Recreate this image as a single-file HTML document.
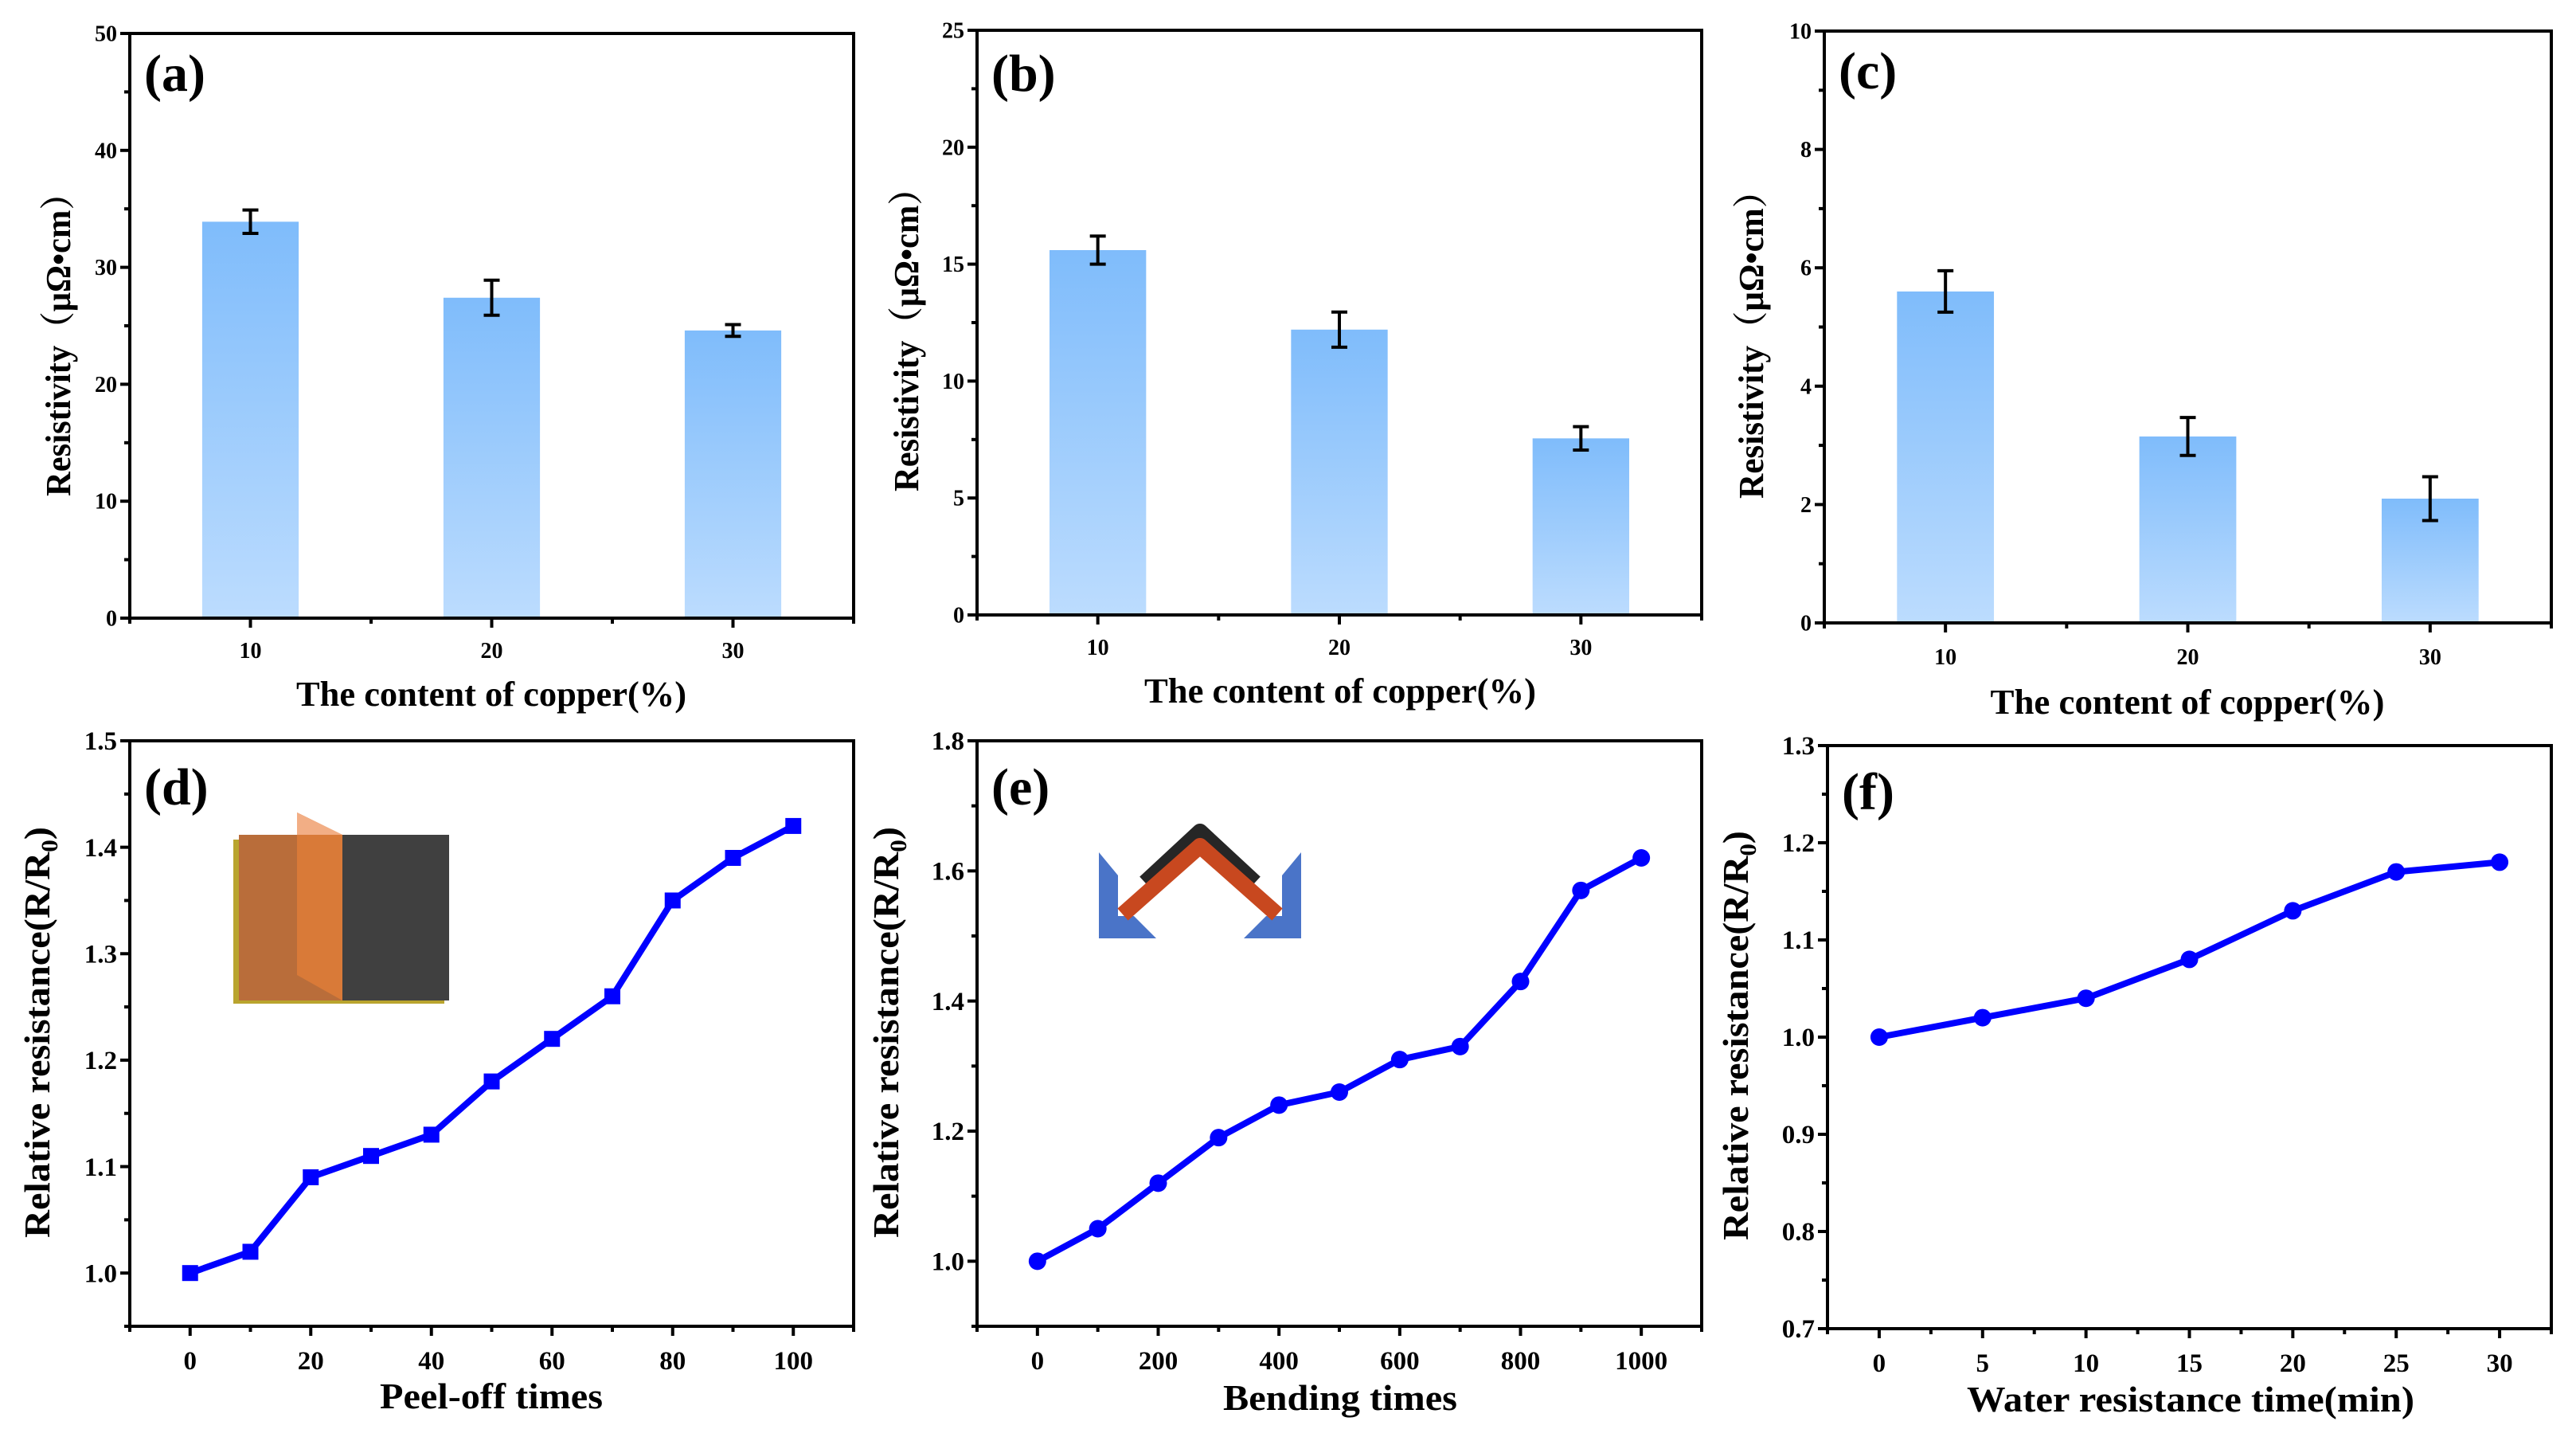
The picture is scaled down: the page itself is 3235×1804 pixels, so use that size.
<!DOCTYPE html>
<html><head><meta charset="utf-8"><style>
html,body{margin:0;padding:0;background:#fff;}
svg{display:block;font-family:"Liberation Serif","Noto Serif CJK SC",serif;font-weight:bold;}
</style></head><body>
<svg id="fig" width="3235" height="1804" viewBox="0 0 3235 1804" xmlns="http://www.w3.org/2000/svg">
<defs>
<linearGradient id="barGrad" x1="0" y1="0" x2="0" y2="1">
<stop offset="0" stop-color="#7fbcfb"/><stop offset="1" stop-color="#bcdcfe"/>
</linearGradient>
</defs>
<g id="inset-d">
<rect x="293" y="1054" width="265" height="206" fill="#b9a42e"/>
<rect x="300" y="1048" width="264" height="208" fill="#404040"/>
<rect x="300" y="1048" width="130" height="208" fill="#b96d3a"/>
<polygon points="373,1020 430,1048 430,1256 373,1224" fill="#d97a38"/>
<polygon points="373,1020 430,1048 373,1048" fill="#f2ae85"/>
</g>
<g id="inset-e">
<polygon points="1380,1070 1404,1099 1404,1150 1424,1150 1452,1178 1380,1178" fill="#4a74c8"/>
<polygon points="1634,1070 1610,1099 1610,1150 1590,1150 1562,1178 1634,1178" fill="#4a74c8"/>
<polyline points="1438,1108 1507,1044 1576,1108" fill="none" stroke="#262626" stroke-width="20" stroke-linejoin="round"/>
<polyline points="1410,1148 1507,1062 1604,1148" fill="none" stroke="#c8481f" stroke-width="20" stroke-linejoin="round"/>
</g>
</svg>
<script>
// ---- data ----
const barCats = [10, 20, 30];
const barA = [33.9, 27.4, 24.6];
const errA = [1.0, 1.5, 0.5];
const barB = [15.6, 12.2, 7.55];
const errB = [0.6, 0.75, 0.5];
const barC = [5.6, 3.15, 2.1];
const errC = [0.35, 0.32, 0.37];
const xD = [0,10,20,30,40,50,60,70,80,90,100];
const yD = [1.00,1.02,1.09,1.11,1.13,1.18,1.22,1.26,1.35,1.39,1.42];
const xE = [0,100,200,300,400,500,600,700,800,900,1000];
const yE = [1.00,1.05,1.12,1.19,1.24,1.26,1.31,1.33,1.43,1.57,1.62];
const xF = [0,5,10,15,20,25,30];
const yF = [1.00,1.02,1.04,1.08,1.13,1.17,1.18];
const ticksYA = [0,10,20,30,40,50];
const ticksYB = [0,5,10,15,20,25];
const ticksYC = [0,2,4,6,8,10];
const ticksYD = [1.0,1.1,1.2,1.3,1.4,1.5];
const ticksYE = [1.0,1.2,1.4,1.6,1.8];
const ticksYF = [0.7,0.8,0.9,1.0,1.1,1.2,1.3];
const ticksXD = [0,20,40,60,80,100];
const ticksXE = [0,200,400,600,800,1000];
const ticksXF = [0,5,10,15,20,25,30];

const NS = "http://www.w3.org/2000/svg";
const svg = document.getElementById('fig');
function mk(tag, attrs, parent){
  const e = document.createElementNS(NS, tag);
  for (const k in attrs) e.setAttribute(k, attrs[k]);
  (parent||svg).appendChild(e);
  return e;
}
function panel(p){
  const g = mk('g', {});
  
  
  const sx = v => p.L + (v - p.x0) / (p.x1 - p.x0) * (p.R - p.L);
  const sy = v => p.B - (v - p.y0) / (p.y1 - p.y0) * (p.B - p.T);
  // bars
  if (p.bars){
    p.bars.forEach((v,i)=>{
      const c = p.cats[i];
      const r = mk('rect', {x: sx(c-2), y: sy(v), width: sx(c+2)-sx(c-2), height: sy(0)-sy(v), fill:'url(#barGrad)'}, g);
      
      
      const e = p.errs[i], cx = sx(c);
      const eb = mk('path', {d:`M${cx},${sy(v+e)}V${sy(v-e)}M${cx-10},${sy(v+e)}H${cx+10}M${cx-10},${sy(v-e)}H${cx+10}`, stroke:'#000','stroke-width':4, fill:'none'}, g);
      
      
    });
  }
  // axes frame
  const fr = mk('rect', {x:p.L, y:p.T, width:p.R-p.L, height:p.B-p.T, fill:'none', stroke:'#000', 'stroke-width':4}, g);
  
  
  // y ticks
  const ny = p.yt.length;
  for (let i=0;i<ny;i++){
    const v = p.yt[i], y = sy(v);
    mk('line', {x1:p.L-12, x2:p.L, y1:y, y2:y, stroke:'#000','stroke-width':4}, g);
    if (i<ny-1){ const ym = sy(v + (p.yt[1]-p.yt[0])/2); mk('line', {x1:p.L-7, x2:p.L, y1:ym, y2:ym, stroke:'#000','stroke-width':4}, g); }
    const t = mk('text', {x:p.L-16, y:y+p.fs*0.34, 'text-anchor':'end', 'font-size':p.fs}, g);
    t.textContent = p.yfmt(v);
    
    
  }
  if (p.y0 < p.yt[0]){ const ym = sy(p.yt[0] - (p.yt[1]-p.yt[0])/2); mk('line', {x1:p.L-7, x2:p.L, y1:ym, y2:ym, stroke:'#000','stroke-width':4}, g); }
  // x ticks
  const step = p.xt[1]-p.xt[0];
  for (let v = p.x0; v <= p.x1 + 1e-9; v += step/2){
    const x = sx(v);
    const major = p.xt.some(t=>Math.abs(t-v)<1e-9);
    mk('line', {x1:x, x2:x, y1:p.B, y2:p.B+(major?12:7), stroke:'#000','stroke-width':4}, g);
  }
  p.xt.forEach(v=>{
    const t = mk('text', {x:sx(v), y:p.xlY, 'text-anchor':'middle', 'font-size':p.fs}, g);
    t.textContent = v;
    
    
  });
  // line series
  if (p.xs){
    const pts = p.xs.map((x,i)=>sx(x)+','+sy(p.ys[i])).join(' ');
    const pl = mk('polyline', {points:pts, fill:'none', stroke:'#0000ff','stroke-width':8,'stroke-linejoin':'round'}, g);
    
    
    p.xs.forEach((x,i)=>{
      let m;
      if (p.square) m = mk('rect', {x:sx(x)-10, y:sy(p.ys[i])-10, width:20, height:20, fill:'#0000ff'}, g);
      else m = mk('circle', {cx:sx(x), cy:sy(p.ys[i]), r:11, fill:'#0000ff'}, g);
      
      
    });
  }
  // titles
  const xt = mk('text', {x:p.xtX, y:p.xtY, 'text-anchor':'middle', 'font-size':p.tfs, textLength:p.xtLen, lengthAdjust:'spacingAndGlyphs'}, g);
  xt.textContent = p.xtitle;
  
  
  const yt = mk('text', {x:0, y:0, 'text-anchor':'middle', 'font-size':p.tfs, textLength:p.ytLen, lengthAdjust:'spacingAndGlyphs', transform:`translate(${p.ytX},${p.ytY}) rotate(-90)`}, g);
  if (p.ysub){
    yt.textContent = 'Relative resistance(R/R';
    const s = mk('tspan', {'font-size':p.tfs*0.65, dy:10}, yt); s.textContent = '0';
    const s2 = mk('tspan', {dy:-10}, yt); s2.textContent = ')';
  } else yt.textContent = p.ytitle;
  
  
  const lb = mk('text', {x:p.L+18, y:p.T+p.lbDy, 'font-size':66}, g);
  lb.textContent = '(' + p.id + ')';
  
  
}
const resTitle = 'Resistivity（μΩ•cm）';
const fmt0 = v => String(v), fmt1 = v => v.toFixed(1);
panel({id:'a', L:163, R:1072, T:42, B:776, x0:5, x1:35, y0:0, y1:50, cats:barCats, bars:barA, errs:errA, yt:ticksYA, xt:barCats, yfmt:fmt0, fs:28, xlY:826, tfs:44, xtitle:'The content of copper(%)', xtX:617, xtY:886, xtLen:490, ytitle:resTitle, ytX:88, ytY:422, ytLen:402, lbDy:72});
panel({id:'b', L:1227, R:2137, T:38, B:772, x0:5, x1:35, y0:0, y1:25, cats:barCats, bars:barB, errs:errB, yt:ticksYB, xt:barCats, yfmt:fmt0, fs:28, xlY:822, tfs:44, xtitle:'The content of copper(%)', xtX:1683, xtY:882, xtLen:492, ytitle:resTitle, ytX:1153, ytY:416, ytLen:402, lbDy:76});
panel({id:'c', L:2291, R:3204, T:39, B:782, x0:5, x1:35, y0:0, y1:10, cats:barCats, bars:barC, errs:errC, yt:ticksYC, xt:barCats, yfmt:fmt0, fs:28, xlY:834, tfs:44, xtitle:'The content of copper(%)', xtX:2747, xtY:896, xtLen:495, ytitle:resTitle, ytX:2214, ytY:422, ytLen:408, lbDy:72});
panel({id:'d', L:163, R:1072, T:930, B:1665, x0:-10, x1:110, y0:0.95, y1:1.5, xs:xD, ys:yD, square:true, yt:ticksYD, xt:ticksXD, yfmt:fmt1, fs:33, xlY:1719, tfs:46, xtitle:'Peel-off times', xtX:617, xtY:1768, xtLen:280, ysub:true, ytX:62, ytY:1296, ytLen:516, lbDy:80});
panel({id:'e', L:1227, R:2137, T:930, B:1665, x0:-100, x1:1100, y0:0.9, y1:1.8, xs:xE, ys:yE, square:false, yt:ticksYE, xt:ticksXE, yfmt:fmt1, fs:33, xlY:1719, tfs:46, xtitle:'Bending times', xtX:1683, xtY:1770, xtLen:294, ysub:true, ytX:1128, ytY:1296, ytLen:516, lbDy:80});
panel({id:'f', L:2295, R:3204, T:936, B:1668, x0:-2.5, x1:32.5, y0:0.7, y1:1.3, xs:xF, ys:yF, square:false, yt:ticksYF, xt:ticksXF, yfmt:fmt1, fs:33, xlY:1722, tfs:46, xtitle:'Water resistance time(min)', xtX:2751, xtY:1772, xtLen:562, ysub:true, ytX:2195, ytY:1300, ytLen:514, lbDy:80});
</script>
</body></html>
